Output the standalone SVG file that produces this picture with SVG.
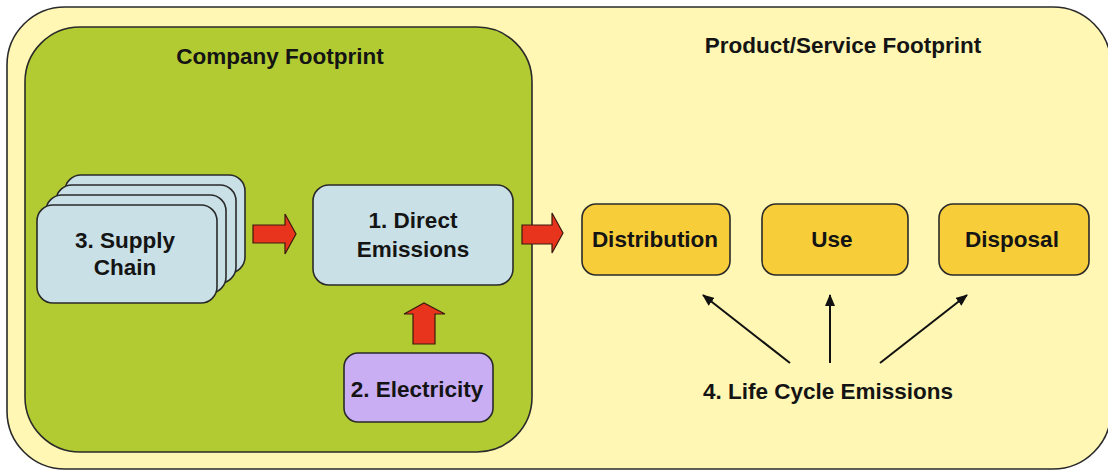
<svg xmlns="http://www.w3.org/2000/svg" width="1108" height="472" viewBox="0 0 1108 472">
  <defs>
    <style>
      .lbl { font-family: "Liberation Sans", Arial, Helvetica, sans-serif; font-weight: bold; font-size: 22.5px; fill: #141414; text-anchor: middle; }
      .box { stroke: #2a2a2a; stroke-width: 1.6; }
      .blue { fill: #c8e0e6; }
      .stage { fill: #f7cd3a; }
      .flow { fill: #e8341c; stroke: #3a1a10; stroke-width: 1.2; stroke-linejoin: miter; }
      .link { stroke: #111; stroke-width: 2; fill: none; marker-end: url(#head); }
    </style>
    <marker id="head" viewBox="0 0 12 10" refX="11" refY="5" markerWidth="6" markerHeight="5" orient="auto" markerUnits="strokeWidth">
      <path d="M0,0 L12,5 L0,10 Z" fill="#111"/>
    </marker>
  </defs>

  <rect width="1108" height="472" fill="#ffffff"/>

  <!-- outer product/service boundary (runs past the right edge) -->
  <g id="product-footprint">
    <rect class="box" x="7" y="7" width="1104" height="462" rx="58" ry="58" fill="#fff7b3"/>
    <text class="lbl" x="843" y="53">Product/Service Footprint</text>
  </g>

  <!-- company boundary -->
  <g id="company-footprint">
    <rect class="box" x="25" y="27" width="507" height="425" rx="55" ry="55" fill="#b2cb33"/>
    <text class="lbl" x="280" y="64">Company Footprint</text>
  </g>

  <g id="supply-chain">
    <rect class="box blue" x="65" y="175" width="180" height="98" rx="16"/>
    <rect class="box blue" x="56" y="185" width="180" height="98" rx="16"/>
    <rect class="box blue" x="46" y="195" width="180" height="98" rx="16"/>
    <rect class="box blue" x="37" y="205" width="180" height="98" rx="16"/>
    <text class="lbl" x="125" y="248">3. Supply</text>
    <text class="lbl" x="125" y="275">Chain</text>
  </g>

  <g id="direct-emissions">
    <rect class="box blue" x="313" y="185" width="200" height="100" rx="16"/>
    <text class="lbl" x="413" y="228">1. Direct</text>
    <text class="lbl" x="413" y="257">Emissions</text>
  </g>

  <g id="electricity">
    <rect class="box" x="344" y="353" width="149" height="69" rx="14" fill="#c9aef4"/>
    <text class="lbl" x="417" y="397">2. Electricity</text>
  </g>

  <g id="distribution">
    <rect class="box stage" x="582" y="204" width="148" height="71" rx="14"/>
    <text class="lbl" x="655" y="247">Distribution</text>
  </g>

  <g id="use">
    <rect class="box stage" x="762" y="204" width="146" height="71" rx="14"/>
    <text class="lbl" x="832" y="247">Use</text>
  </g>

  <g id="disposal">
    <rect class="box stage" x="939" y="204" width="150" height="71" rx="14"/>
    <text class="lbl" x="1012" y="247">Disposal</text>
  </g>

  <g id="life-cycle-emissions">
    <text class="lbl" x="828" y="399">4. Life Cycle Emissions</text>
  </g>

  <g id="connectors">
    <!-- block arrows -->
    <path class="flow" d="M253,225 H285 V214 L296,234 L285,254 V243 H253 Z"/>
    <path class="flow" d="M522,225 H552 V213 L563,233 L552,253 V244 H522 Z"/>
    <path class="flow" d="M413,344 V314 H404 L424,303 L445,314 H435 V344 Z"/>
    <!-- life cycle pointers -->
    <line class="link" x1="790" y1="363" x2="703" y2="295"/>
    <line class="link" x1="830" y1="363" x2="830" y2="295"/>
    <line class="link" x1="880" y1="363" x2="967" y2="295"/>
  </g>
</svg>
